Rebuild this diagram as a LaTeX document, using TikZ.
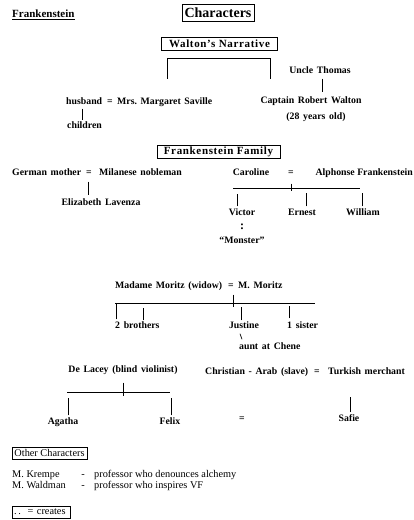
\documentclass[tikz,border=0pt]{standalone}
\usepackage{fontspec}
\setmainfont{Liberation Serif}
\newfontfamily\wsfont[WordSpace=1.5]{Liberation Serif}
\usetikzlibrary{calc}
\begin{document}
\begin{tikzpicture}[x=1pt,y=-1pt,
  every node/.style={inner sep=0pt},
  t/.style={font=\wsfont\fontsize{9.8}{11}\selectfont\bfseries, text height=7pt, text depth=2pt},
  rg/.style={font=\fontsize{10.3}{12}\selectfont, text height=7pt, text depth=2pt},
  hdr/.style={draw, line width=0.7pt},
  ln/.style={line width=0.8pt}]
\useasboundingbox[fill=white] (0,0) rectangle (414,520);

% titles
\node[font=\fontsize{11}{13}\selectfont\bfseries, anchor=west] (fr) at (12,15) {\underline{Frankenstein}};
\node[hdr, minimum width=72, minimum height=17, font=\fontsize{14}{16}\selectfont\bfseries] (chars) at (218,12.5) {Characters};
\node[hdr, minimum width=116, minimum height=13, font=\fontsize{11}{13}\selectfont\bfseries\addfontfeature{LetterSpace=6}] (walton) at (219.5,44) {Walton’s Narrative};

% Walton's narrative
\coordinate (wl) at (167,58);
\coordinate (wr) at (270,58);
\coordinate (wlb) at (167,79);
\coordinate (wrb) at (270,79);
\draw[line width=0.6pt] (wl) -- (wr);
\draw[ln] (wl) -- (wlb);
\draw[ln] (wr) -- (wrb);

\node[t] (uncle) at (320,71) {Uncle Thomas};
\node[t] (capt) at (311,101) {Captain Robert Walton};
\node[t] (age) at (316,117) {(28 years old)};
\draw[ln] ($(uncle.south)+(2,3)$) -- ($(uncle.south |- capt.north)+(2,-4)$);

\node[t, anchor=west] (husb) at (66,102) {husband};
\node[t] (eq1) at (110,102) {=};
\node[t, anchor=west] (mrs) at (117,102) {Mrs.\ Margaret Saville};
\node[t, anchor=west] (child) at (67,126) {children};
\draw[ln] ($(husb.south west)+(16,2)$) -- ($(husb.south west |- child.north)+(16,-1)$);

% Frankenstein family
\node[hdr, minimum width=123, minimum height=13, font=\fontsize{11}{13}\selectfont\bfseries\addfontfeature{LetterSpace=6}] (ffam) at (218.5,151.5) {Frankenstein Family};

\node[t, anchor=west] (gm) at (12,173) {German mother};
\node[t] (eq2) at (89,173) {=};
\node[t, anchor=west] (mil) at (99,173) {Milanese nobleman};
\node[t] (eliz) at (101,203) {Elizabeth Lavenza};
\draw[ln] ($(eq2.south)+(-1,4)$) -- ($(eq2.south |- eliz.north)+(-1,-3)$);

\node[t] (car) at (251,173) {Caroline};
\node[t] (eq3) at (291,173) {=};
\node[font=\fontsize{9.8}{11}\selectfont\bfseries, text height=7pt, text depth=2pt, anchor=east] (alph) at (413,173) {Alphonse Frankenstein};
\coordinate (fl) at (233,188);
\coordinate (fr2) at (360,188);
\draw[line width=0.6pt] (fl) -- (fr2);
\draw[ln] ($(eq3.south)+(0,6)$) -- ($(eq3.south |- fl)+(0,3)$);

\node[t] (vic) at (242,213) {Victor};
\node[t] (ern) at (302,213) {Ernest};
\node[t] (wil) at (363,213) {William};
\draw[ln] ($(vic.north)+(-5,-2)$) -- ($(vic.north |- fl)+(-5,6)$);
\draw[ln] ($(ern.north)+(4,-2)$) -- ($(ern.north |- fl)+(4,5)$);
\draw[ln] ($(wil.north)+(-1,-2)$) -- ($(wil.north |- fl)+(-1,5)$);
\node[font=\fontsize{12}{13}\selectfont\bfseries] (col) at (242,227) {:};
\node[t] (mon) at (242,241) {“Monster”};

% Moritz
\node[t, anchor=west] (mm) at (115,286) {Madame Moritz (widow)};
\node[t] (eq4) at (231,286) {=};
\node[t, anchor=west] (mmz) at (238,286) {M. Moritz};
\coordinate (ml) at (115,303);
\coordinate (mr) at (315,303);
\draw[line width=0.6pt] (ml) -- (mr);
\draw[ln] ($(eq4.south)+(2,4)$) -- ($(eq4.south |- ml)+(2,4)$);

\node[t, anchor=west] (bro) at (115,326) {2 brothers};
\node[t] (jus) at (244,326) {Justine};
\node[t, anchor=west] (sis) at (287,326) {1 sister};
\draw[ln] ($(bro.north west)+(1,-2)$) -- ($(bro.north west |- ml)+(1,1)$);
\draw[ln] ($(bro.north west)+(28,-1)$) -- ($(bro.north west |- ml)+(28,5)$);
\draw[ln] ($(jus.north)+(-3,-1)$) -- ($(jus.north |- ml)+(-3,4)$);
\draw[ln] ($(sis.north west)+(2,-3)$) -- ($(sis.north west |- ml)+(2,3)$);
\node[t, anchor=west] (aunt) at (239,347) {aunt at Chene};
\draw[line width=0.7pt] ($(jus.south)+(-4,3)$) -- ($(aunt.north west)+(3,-3)$);

% De Lacey
\node[t] (dl) at (123,370) {De Lacey (blind violinist)};
\coordinate (dll) at (67,392);
\coordinate (dlr) at (170,392);
\draw[line width=0.6pt] (dll) -- (dlr);
\draw[ln] ($(dl.south)+(0,8)$) -- ($(dl.south |- dll)+(0,4)$);
\node[t] (aga) at (63,422) {Agatha};
\node[t] (fel) at (170,422) {Felix};
\draw[ln] ($(aga.north)+(5,-2)$) -- ($(aga.north |- dll)+(5,6)$);
\draw[ln] ($(fel.north)+(1,-2)$) -- ($(fel.north |- dll)+(1,6)$);
\node[t] (eq5) at (242,419) {=};

\node[t, anchor=west] (chr) at (205,372) {Christian - Arab (slave)};
\node[t] (eq6) at (317,372) {=};
\node[t, anchor=west] (turk) at (328,372) {Turkish merchant};
\node[t] (saf) at (349,419) {Safie};
\draw[ln] ($(saf.north)+(1,-2)$) -- ($(saf.north)+(1,-17)$);

% Other characters
\node[hdr, minimum width=75, minimum height=12, rg] (oc) at (49.5,453.5) {Other Characters};
\node[rg, anchor=west] (kr) at (12,475) {M. Krempe};
\node[rg] (krd) at (83,475) {-};
\node[rg, anchor=west] (krt) at (94,475) {professor who denounces alchemy};
\node[rg, anchor=west] (wa) at (12,486) {M. Waldman};
\node[rg] (wad) at (83,486) {-};
\node[rg, anchor=west] (wat) at (94,486) {professor who inspires VF};
\node[hdr, minimum width=58, minimum height=12, rg, align=left, text width=54] (cr) at (41,512) {.\,.\enspace\,= creates};
\end{tikzpicture}
\end{document}
